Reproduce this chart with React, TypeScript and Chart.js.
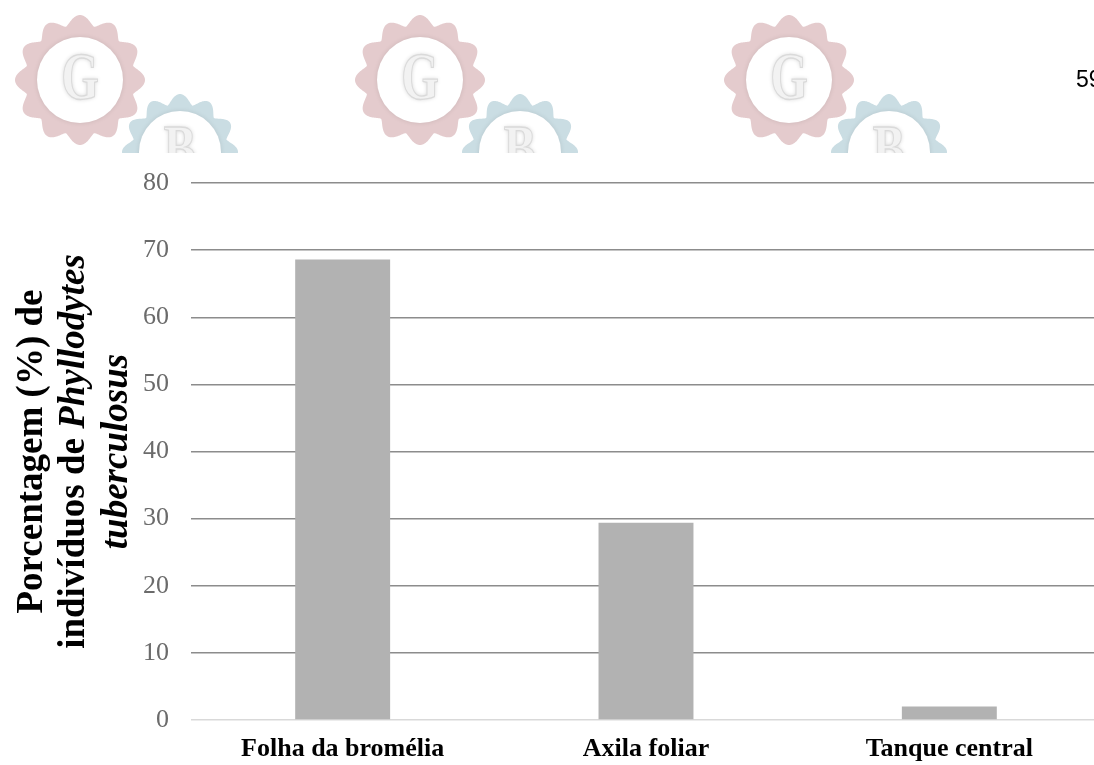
import { useEffect, useRef } from 'react';
import { Chart, registerables } from 'chart.js';

Chart.register(...registerables);

// Chart data
const categories = ['Folha da bromélia', 'Axila foliar', 'Tanque central'];
const percentages = [68.6, 29.4, 2.0];
const yMin = 0;
const yMax = 80;
const yStep = 10;
const pageNumber = '59';

// Y-axis title, one entry per line; each segment is [text, italic]
const yTitleLines: [string, boolean][][] = [
  [['Porcentagem (%) de', false]],
  [['indivíduos de ', false], ['Phyllodytes', true]],
  [['tuberculosus', true]],
];

const SERIF = '"Liberation Serif", "Times New Roman", serif';

function gearPath(ctx: CanvasRenderingContext2D, cx: number, cy: number, outer: number, depth: number) {
  const teeth = 12;
  const steps = 480;
  ctx.beginPath();
  for (let i = 0; i <= steps; i++) {
    const t = (i / steps) * Math.PI * 2;
    const w = (1 + Math.cos(teeth * (t + Math.PI / 2))) / 2;
    const r = outer - depth * (1 - Math.pow(w, 0.7));
    const x = cx + r * Math.cos(t);
    const y = cy + r * Math.sin(t);
    if (i === 0) ctx.moveTo(x, y);
    else ctx.lineTo(x, y);
  }
  ctx.closePath();
}

function drawBadge(
  ctx: CanvasRenderingContext2D,
  cx: number,
  cy: number,
  outer: number,
  inner: number,
  color: string,
  letter: string,
  outline: boolean
) {
  ctx.save();
  gearPath(ctx, cx, cy, outer, 10);
  if (outline) {
    ctx.strokeStyle = '#ffffff';
    ctx.lineWidth = 5;
    ctx.stroke();
  }
  ctx.fillStyle = color;
  ctx.fill();

  ctx.beginPath();
  ctx.arc(cx, cy, inner, 0, Math.PI * 2);
  ctx.shadowColor = 'rgba(0,0,0,0.10)';
  ctx.shadowBlur = 5;
  ctx.fillStyle = '#ffffff';
  ctx.fill();

  ctx.shadowColor = 'rgba(0,0,0,0.18)';
  ctx.shadowBlur = 4;
  ctx.translate(cx, cy);
  ctx.scale(0.78, 1.08);
  ctx.font = `bold 62px ${SERIF}`;
  ctx.textAlign = 'center';
  ctx.textBaseline = 'middle';
  ctx.fillStyle = '#f2f2f2';
  ctx.fillText(letter, 0, 2);
  ctx.shadowBlur = 0;
  ctx.strokeStyle = '#dadada';
  ctx.lineWidth = 1.2;
  ctx.strokeText(letter, 0, 2);
  ctx.restore();
}

// Faint header badges and page number above the plot
const headerPlugin = {
  id: 'header',
  beforeDraw(chart: Chart) {
    const ctx = chart.ctx;
    ctx.save();
    ctx.beginPath();
    ctx.rect(0, 0, chart.width, 153);
    ctx.clip();
    const groups = [80, 420, 789];
    for (const gx of groups) {
      drawBadge(ctx, gx, 80, 65, 43, '#e4cbcd', 'G', false);
      drawBadge(ctx, gx + 100, 152, 58, 41, '#cadde3', 'B', true);
    }
    ctx.restore();

    ctx.save();
    ctx.font = '23px "Liberation Sans", Arial, sans-serif';
    ctx.fillStyle = '#000000';
    ctx.textAlign = 'left';
    ctx.textBaseline = 'alphabetic';
    ctx.fillText(pageNumber, 1076, 87);
    ctx.restore();
  },
};

// Rotated y-axis title with mixed upright / italic segments
const yTitlePlugin = {
  id: 'yTitle',
  afterDraw(chart: Chart) {
    const ctx = chart.ctx;
    const area = chart.chartArea;
    const cy = (area.top + area.bottom) / 2;
    const baselines = [42, 84, 127];
    const fontFor = (italic: boolean) => `${italic ? 'italic ' : ''}bold 37px ${SERIF}`;
    yTitleLines.forEach((segments, i) => {
      ctx.save();
      ctx.translate(baselines[i], cy);
      ctx.rotate(-Math.PI / 2);
      ctx.fillStyle = '#000000';
      ctx.textBaseline = 'alphabetic';
      ctx.textAlign = 'left';
      let total = 0;
      const widths = segments.map(([text, italic]) => {
        ctx.font = fontFor(italic);
        const w = ctx.measureText(text).width;
        total += w;
        return w;
      });
      let x = -total / 2;
      segments.forEach(([text, italic], j) => {
        ctx.font = fontFor(italic);
        ctx.fillText(text, x, 0);
        x += widths[j];
      });
      ctx.restore();
    });
  },
};

export default function App() {
  const canvasRef = useRef<HTMLCanvasElement | null>(null);

  useEffect(() => {
    document.documentElement.style.overflow = 'hidden';
    document.body.style.overflow = 'hidden';
    const canvas = canvasRef.current;
    if (!canvas) return;
    const chart = new Chart(canvas, {
      type: 'bar',
      data: {
        labels: categories,
        datasets: [
          {
            data: percentages,
            backgroundColor: '#b2b2b2',
            borderWidth: 0,
            categoryPercentage: 1,
            barPercentage: 0.313,
          },
        ],
      },
      options: {
        responsive: false,
        animation: false,
        devicePixelRatio: 1,
        layout: { padding: { left: 0, right: 9, top: 183, bottom: 0 } },
        plugins: {
          legend: { display: false },
          tooltip: { enabled: false },
          title: { display: false },
        },
        scales: {
          x: {
            grid: { display: false, drawTicks: false },
            border: { display: false },
            ticks: {
              color: '#000000',
              font: { family: SERIF, size: 26, weight: 'bold' },
              padding: 14,
              maxRotation: 0,
            },
            afterFit: (scale: any) => {
              scale.height = 45;
            },
          },
          y: {
            min: yMin,
            max: yMax,
            grid: {
              drawTicks: false,
              color: (c: any) => (c.tick && c.tick.value === 0 ? '#d9d9d9' : '#8c8c8c'),
              lineWidth: 1.5,
            },
            border: { display: false },
            ticks: {
              stepSize: yStep,
              color: '#6b6b6b',
              font: { family: SERIF, size: 26 },
              padding: 22,
            },
            afterFit: (scale: any) => {
              scale.width = 191;
            },
          },
        },
      },
      plugins: [headerPlugin, yTitlePlugin],
    });
    return () => chart.destroy();
  }, []);

  return (
    <div style={{ position: 'fixed', left: 0, top: 0, width: 1110, height: 765, background: '#ffffff' }}>
      <canvas ref={canvasRef} width={1110} height={765} style={{ display: 'block' }} />
    </div>
  );
}
